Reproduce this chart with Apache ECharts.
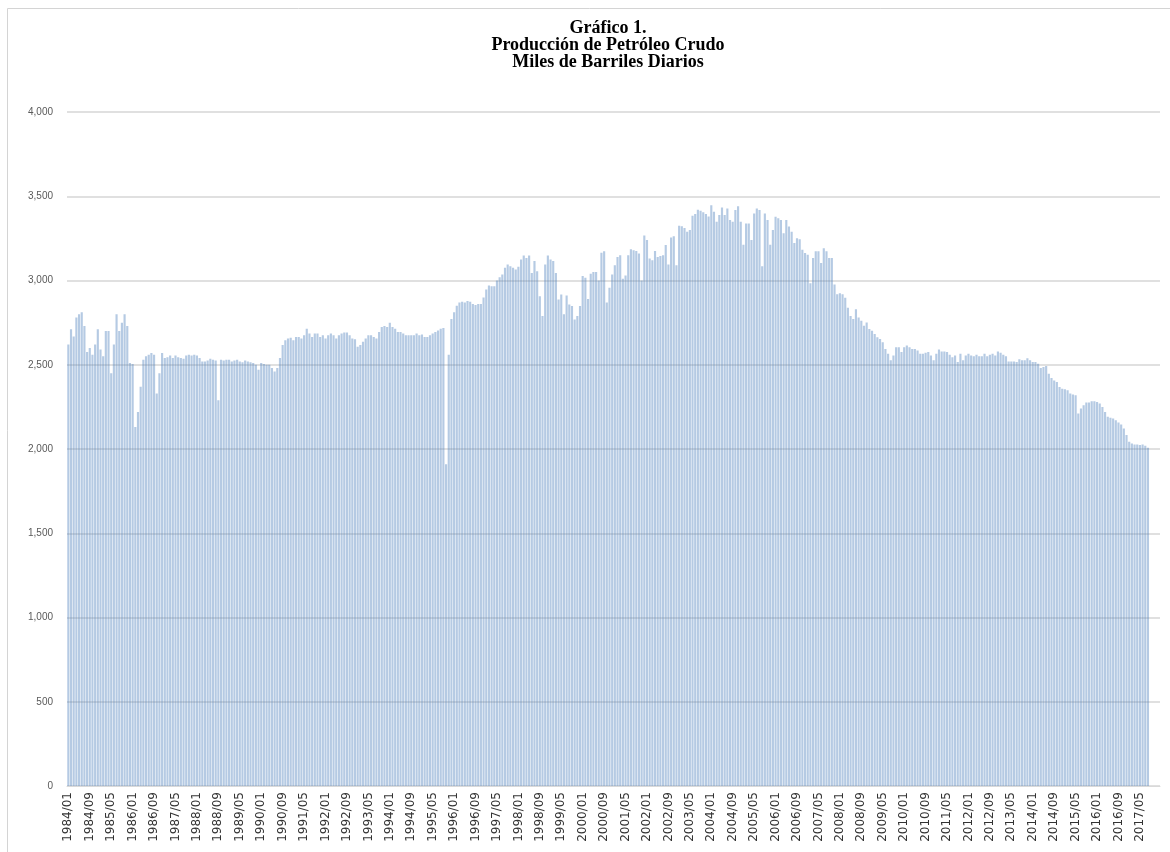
<!DOCTYPE html>
<html>
<head>
<meta charset="utf-8">
<script src="https://cdn.jsdelivr.net/npm/echarts@6/dist/echarts.min.js"></script>
<style>
    html, body { margin: 0; padding: 0; background: #fff; }
    #chart { width: 1170px; height: 852px; }
</style>
</head>
<body>
<div id="chart"></div>
<script>
// años del eje (el eje llega hasta 2017/12, los datos hasta 2017/08)
var anios = [1984, 1985, 1986, 1987, 1988, 1989, 1990, 1991, 1992, 1993, 1994, 1995, 1996, 1997, 1998, 1999,
    2000, 2001, 2002, 2003, 2004, 2005, 2006, 2007, 2008, 2009, 2010, 2011, 2012, 2013, 2014, 2015, 2016, 2017];
var mesesDelAnio = ["01", "02", "03", "04", "05", "06", "07", "08", "09", "10", "11", "12"];

// miles de barriles diarios
var prod1980s = [
    2620, 2710, 2668, 2780, 2800, 2812, 2730, 2575, 2600, 2560, 2620, 2710, // 1984
    2590, 2550, 2700, 2700, 2450, 2620, 2800, 2700, 2750, 2800, 2730, 2510, // 1985
    2505, 2130, 2220, 2370, 2530, 2550, 2560, 2570, 2560, 2330, 2450, 2570, // 1986
    2540, 2545, 2555, 2540, 2555, 2545, 2540, 2535, 2555, 2560, 2555, 2560, // 1987
    2555, 2540, 2520, 2520, 2525, 2535, 2530, 2525, 2290, 2530, 2525, 2530, // 1988
    2530, 2520, 2525, 2530, 2520, 2515, 2525, 2520, 2515, 2510, 2500, 2470  // 1989
];
var prod1990s = [
    2510, 2505, 2500, 2500, 2480, 2460, 2480, 2540, 2617, 2646, 2656, 2660, // 1990
    2646, 2665, 2665, 2656, 2675, 2714, 2685, 2665, 2685, 2685, 2665, 2675, // 1991
    2656, 2675, 2685, 2675, 2656, 2675, 2685, 2691, 2691, 2675, 2656, 2652, // 1992
    2607, 2617, 2636, 2656, 2675, 2675, 2665, 2656, 2694, 2724, 2730, 2724, // 1993
    2749, 2724, 2714, 2694, 2694, 2685, 2675, 2675, 2675, 2675, 2685, 2675, // 1994
    2679, 2665, 2665, 2675, 2685, 2694, 2704, 2714, 2718, 1910, 2560, 2772, // 1995
    2811, 2850, 2870, 2874, 2870, 2879, 2874, 2860, 2854, 2860, 2860, 2899, // 1996
    2947, 2971, 2966, 2966, 3000, 3020, 3036, 3075, 3095, 3085, 3075, 3065, // 1997
    3081, 3125, 3148, 3134, 3148, 3045, 3115, 3055, 2907, 2789, 3095, 3148, // 1998
    3125, 3115, 3045, 2887, 2917, 2799, 2911, 2858, 2848, 2769, 2789, 2848  // 1999
];
var prod2000s = [
    3026, 3016, 2890, 3040, 3050, 3050, 3000, 3164, 3174, 2870, 2957, 3036, // 2000
    3090, 3140, 3150, 3010, 3030, 3150, 3185, 3180, 3175, 3160, 3000, 3267, // 2001
    3240, 3130, 3120, 3175, 3140, 3145, 3150, 3210, 3095, 3255, 3263, 3090, // 2002
    3325, 3322, 3312, 3290, 3300, 3385, 3395, 3420, 3414, 3405, 3395, 3380, // 2003
    3447, 3408, 3349, 3388, 3433, 3388, 3427, 3359, 3349, 3418, 3441, 3349, // 2004
    3212, 3339, 3339, 3241, 3398, 3427, 3418, 3084, 3398, 3359, 3212, 3300, // 2005
    3378, 3369, 3359, 3280, 3359, 3320, 3290, 3222, 3251, 3245, 3182, 3163, // 2006
    3153, 2984, 3133, 3173, 3173, 3104, 3192, 3173, 3133, 3133, 2977, 2918, // 2007
    2924, 2918, 2898, 2839, 2790, 2771, 2830, 2781, 2761, 2732, 2751, 2712, // 2008
    2702, 2683, 2663, 2653, 2634, 2594, 2565, 2526, 2555, 2604, 2604, 2575  // 2009
];
var prod2010s = [
    2604, 2614, 2604, 2594, 2594, 2585, 2565, 2565, 2571, 2575, 2555, 2526, // 2010
    2565, 2591, 2579, 2579, 2575, 2559, 2545, 2555, 2516, 2565, 2526, 2555, // 2011
    2565, 2555, 2551, 2559, 2551, 2551, 2565, 2551, 2559, 2565, 2555, 2579, // 2012
    2571, 2559, 2551, 2520, 2520, 2520, 2516, 2532, 2526, 2526, 2539, 2526, // 2013
    2516, 2516, 2506, 2480, 2486, 2492, 2447, 2421, 2407, 2398, 2368, 2358, // 2014
    2354, 2348, 2329, 2323, 2319, 2211, 2240, 2260, 2276, 2276, 2283, 2283, // 2015
    2279, 2270, 2250, 2220, 2191, 2185, 2181, 2171, 2157, 2146, 2122, 2083, // 2016
    2043, 2033, 2027, 2027, 2023, 2027, 2020, 2008                          // 2017
];

var titulo = ["Gráfico 1.", "Producción de Petróleo Crudo", "Miles de Barriles Diarios"];

// categorias mensuales "aaaa/mm"
var meses = [];
for (var a = 0; a < anios.length; a++) {
    for (var m = 0; m < mesesDelAnio.length; m++) {
        meses.push(anios[a] + "/" + mesesDelAnio[m]);
    }
}
var produccion = prod1980s.concat(prod1990s, prod2000s, prod2010s);

var myChart = echarts.init(document.getElementById("chart"));

var tituloGraphic = [];
for (var t = 0; t < titulo.length; t++) {
    tituloGraphic.push({
        type: 'text',
        x: 608,
        y: 28 + t * 17,
        silent: true,
        style: {
            text: titulo[t],
            align: 'center',
            verticalAlign: 'middle',
            font: 'bold 18px "Liberation Serif", "Times New Roman", serif',
            fill: '#000'
        }
    });
}

var option = {
    animation: false,
    backgroundColor: '#fff',
    graphic: [{
        //marco del grafico
        type: 'rect',
        silent: true,
        shape: { x: 7.5, y: 8.5, width: 1300, height: 1000 },
        style: { fill: 'none', stroke: '#d4d4d4', lineWidth: 1 }
    }].concat(tituloGraphic),
    grid: {
        left: 67,
        right: 10,
        top: 112,
        bottom: 66
    },
    xAxis: {
        type: 'category',
        data: meses,
        axisLine: { lineStyle: { color: '#d9d9d9', width: 1 } },
        axisTick: { show: false },
        axisLabel: {
            interval: 7,
            rotate: 90,
            margin: 6,
            fontSize: 12,
            fontFamily: '"DejaVu Sans", sans-serif',
            color: '#333'
        }
    },
    yAxis: {
        type: 'value',
        min: 0,
        max: 4000,
        interval: 500,
        axisLine: { show: false },
        axisTick: { show: false },
        axisLabel: {
            margin: 14,
            fontSize: 10,
            fontFamily: '"Liberation Sans Narrow", "Liberation Sans", sans-serif',
            color: '#595959',
            formatter: function(v) {
                return v.toLocaleString('en-US');
            }
        },
        splitLine: { lineStyle: { color: '#e0e0e0', width: 2 } }
    },
    series: [{
        type: 'bar',
        data: produccion,
        barCategoryGap: '20%',
        itemStyle: {
            color: 'rgba(79,129,189,0.42)'
        }
    }]
};
myChart.setOption(option);
</script>
</body>
</html>
